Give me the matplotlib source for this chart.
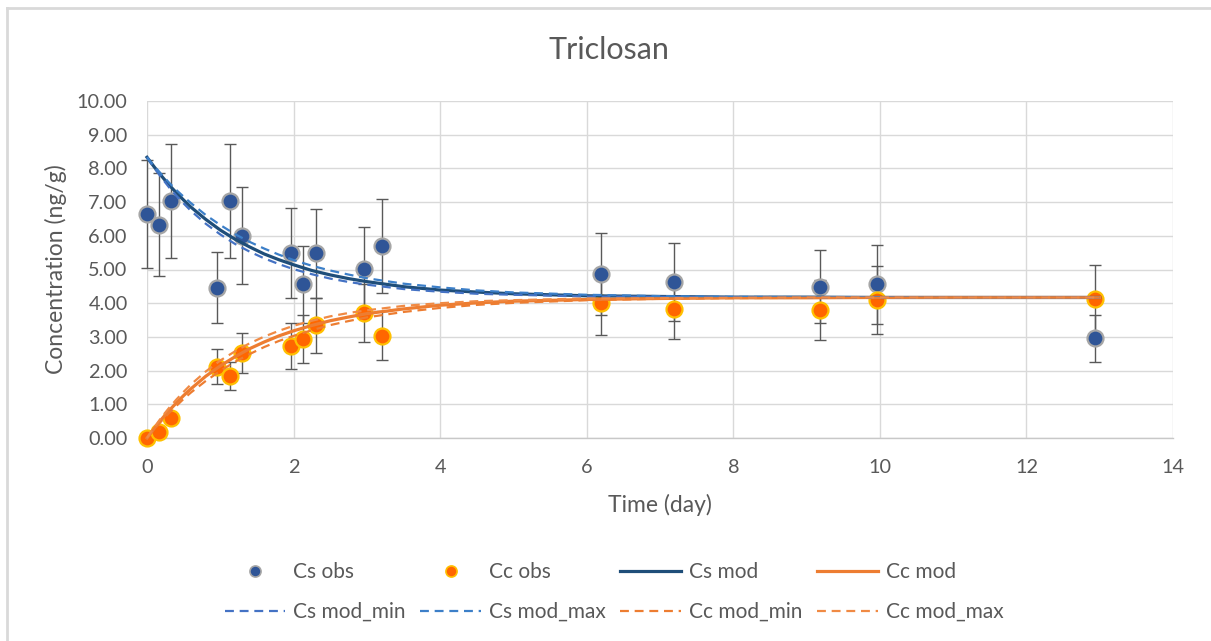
import matplotlib
matplotlib.use("Agg")
import matplotlib.pyplot as plt
from matplotlib.lines import Line2D

plt.rcParams['font.family'] = ['Lato', 'DejaVu Sans']

title = "Triclosan"
x_label = "Time (day)"
y_label = "Concentration (ng/g)"

# Observations (mean and error)
t_obs = [0, 0.17, 0.33, 0.96, 1.13, 1.29, 1.96, 2.13, 2.30, 2.96, 3.21, 6.19, 7.19, 9.18, 9.96, 12.94]
cs_obs = [6.65, 6.33, 7.03, 4.46, 7.03, 6.00, 5.49, 4.56, 5.48, 5.01, 5.70, 4.87, 4.63, 4.49, 4.56, 2.96]
cs_err = [1.60, 1.53, 1.69, 1.06, 1.69, 1.44, 1.33, 1.14, 1.32, 1.25, 1.39, 1.21, 1.16, 1.09, 1.17, 0.70]
cc_obs = [0.00, 0.19, 0.58, 2.11, 1.84, 2.53, 2.73, 2.93, 3.34, 3.72, 3.04, 4.02, 3.84, 3.80, 4.09, 4.12]
cc_err = [0.00, 0.05, 0.10, 0.52, 0.42, 0.60, 0.67, 0.71, 0.82, 0.86, 0.72, 0.96, 0.91, 0.88, 1.00, 1.00]

# Model runs
t_mod = [0, 0.1, 0.2, 0.3, 0.4, 0.5, 0.6, 0.8, 1.0, 1.2, 1.4, 1.6, 1.8, 2.0, 2.25, 2.5, 2.75, 3.0,
         3.5, 4.0, 4.5, 5, 6, 7, 8, 9, 10, 11, 12, 13]
cs_mod = [8.33, 8.04, 7.77, 7.51, 7.28, 7.06, 6.85, 6.49, 6.17, 5.90, 5.67, 5.46, 5.29, 5.14, 4.97, 4.84,
          4.73, 4.64, 4.49, 4.39, 4.33, 4.28, 4.22, 4.20, 4.18, 4.18, 4.17, 4.17, 4.17, 4.17]
cs_mod_max = [8.33, 8.06, 7.82, 7.58, 7.36, 7.16, 6.97, 6.62, 6.32, 6.05, 5.82, 5.62, 5.44, 5.28, 5.11, 4.97,
              4.85, 4.74, 4.58, 4.47, 4.38, 4.32, 4.25, 4.21, 4.19, 4.18, 4.18, 4.17, 4.17, 4.17]
cs_mod_min = [8.33, 8.01, 7.72, 7.44, 7.19, 6.96, 6.74, 6.36, 6.04, 5.76, 5.53, 5.33, 5.16, 5.01, 4.86, 4.73,
              4.63, 4.55, 4.42, 4.34, 4.28, 4.25, 4.20, 4.19, 4.18, 4.17, 4.17, 4.17, 4.17, 4.17]
cc_mod = [0.00, 0.29, 0.56, 0.81, 1.04, 1.26, 1.46, 1.83, 2.14, 2.41, 2.65, 2.85, 3.03, 3.18, 3.34, 3.48,
          3.59, 3.69, 3.83, 3.94, 4.01, 4.06, 4.11, 4.14, 4.16, 4.16, 4.17, 4.17, 4.17, 4.17]
cc_mod_max = [0.00, 0.32, 0.62, 0.89, 1.14, 1.37, 1.59, 1.97, 2.30, 2.57, 2.81, 3.01, 3.18, 3.33, 3.48, 3.61,
              3.71, 3.79, 3.92, 4.00, 4.06, 4.09, 4.14, 4.15, 4.16, 4.17, 4.17, 4.17, 4.17, 4.17]
cc_mod_min = [0.00, 0.26, 0.51, 0.74, 0.95, 1.16, 1.35, 1.69, 1.99, 2.26, 2.49, 2.70, 2.88, 3.03, 3.20, 3.35,
              3.47, 3.58, 3.74, 3.86, 3.95, 4.01, 4.09, 4.13, 4.15, 4.16, 4.16, 4.17, 4.17, 4.17]

x_ticks = [0, 2, 4, 6, 8, 10, 12, 14]
y_ticks = [0, 1, 2, 3, 4, 5, 6, 7, 8, 9, 10]

TEXT = '#595959'
GRID = '#D9D9D9'
CS_FILL, CS_EDGE = '#2F5597', '#A6A6A6'
CC_FILL, CC_EDGE = '#FF6600', '#FFC000'
CS_LINE, CC_LINE = '#1F4E79', '#ED7D31'
CS_MIN, CS_MAX = '#4472C4', '#3C7FC8'
CC_MIN, CC_MAX = '#ED7D31', '#F08A44'
DASH = (0, (4, 2.6))

fig = plt.figure(figsize=(12.11, 6.41), dpi=100)
ax = fig.add_axes([147 / 1211, 1 - 438 / 641, (1173 - 147) / 1211, (438 - 101) / 641])

# error bars
for ys, es in ((cs_obs, cs_err), (cc_obs, cc_err)):
    eb = ax.errorbar(t_obs, ys, yerr=es, fmt='none', ecolor='#595959', elinewidth=1.0,
                     capsize=4.5, capthick=1.0, zorder=2)
    for art in eb.get_children():
        art.set_clip_on(False)

# observed points
ax.plot(t_obs, cs_obs, linestyle='none', marker='o', markersize=11.5, markerfacecolor=CS_FILL,
        markeredgecolor=CS_EDGE, markeredgewidth=1.6, zorder=3, clip_on=False)
ax.plot(t_obs, cc_obs, linestyle='none', marker='o', markersize=11.5, markerfacecolor=CC_FILL,
        markeredgecolor=CC_EDGE, markeredgewidth=1.6, zorder=3, clip_on=False)

# model lines
ax.plot(t_mod, cs_mod, color=CS_LINE, linewidth=2.3, zorder=4, solid_joinstyle='round', clip_on=False)
ax.plot(t_mod, cc_mod, color=CC_LINE, linewidth=2.3, zorder=4, solid_joinstyle='round', clip_on=False)
ax.plot(t_mod, cs_mod_min, color=CS_MIN, linewidth=1.6, linestyle=DASH, zorder=4, clip_on=False)
ax.plot(t_mod, cs_mod_max, color=CS_MAX, linewidth=1.6, linestyle=DASH, zorder=4, clip_on=False)
ax.plot(t_mod, cc_mod_min, color=CC_MIN, linewidth=1.6, linestyle=DASH, zorder=4, clip_on=False)
ax.plot(t_mod, cc_mod_max, color=CC_MAX, linewidth=1.6, linestyle=DASH, zorder=4, clip_on=False)

ax.set_xlim(0, 14)
ax.set_ylim(0, 10)
ax.set_xticks(x_ticks)
ax.set_yticks(y_ticks)
ax.set_xticklabels([str(v) for v in x_ticks])
ax.set_yticklabels([f"{v:.2f}" for v in y_ticks])
ax.tick_params(axis='both', length=0, labelsize=14.3, colors=TEXT)
ax.tick_params(axis='y', pad=14)
ax.tick_params(axis='x', pad=15)
ax.grid(True, color=GRID, linewidth=1.0, zorder=0)
ax.set_axisbelow(True)
for side in ('top', 'right', 'left'):
    ax.spines[side].set_visible(False)
ax.spines['bottom'].set_color('#C8C8C8')
ax.spines['bottom'].set_linewidth(1.0)

ax.set_xlabel(x_label, fontsize=16.5, color=TEXT, labelpad=13)
ax.set_ylabel(y_label, fontsize=16.5, color=TEXT, labelpad=7)

fig.text(609 / 1211, 1 - 50 / 641, title, fontsize=22, color=TEXT, ha='center', va='center')

# legend, filled column by column so rows read: obs/mod on top, min/max below
handles = [
    Line2D([], [], linestyle='none', marker='o', markersize=8, markerfacecolor=CS_FILL,
           markeredgecolor=CS_EDGE, markeredgewidth=1.2),
    Line2D([], [], color=CS_MIN, linewidth=1.6, linestyle=DASH),
    Line2D([], [], linestyle='none', marker='o', markersize=8, markerfacecolor=CC_FILL,
           markeredgecolor=CC_EDGE, markeredgewidth=1.2),
    Line2D([], [], color=CS_MAX, linewidth=1.6, linestyle=DASH),
    Line2D([], [], color=CS_LINE, linewidth=2.3),
    Line2D([], [], color=CC_MIN, linewidth=1.6, linestyle=DASH),
    Line2D([], [], color=CC_LINE, linewidth=2.3),
    Line2D([], [], color=CC_MAX, linewidth=1.6, linestyle=DASH),
]
labels = ['Cs obs', 'Cs mod_min', 'Cc obs', 'Cs mod_max', 'Cs mod', 'Cc mod_min', 'Cc mod', 'Cc mod_max']
fig.legend(handles, labels, loc='center', bbox_to_anchor=(614 / 1211, 1 - 592 / 641), ncol=4,
           frameon=False, fontsize=15, labelcolor=TEXT, handlelength=2.9, handletextpad=0.4,
           columnspacing=0.7, labelspacing=0.95, borderpad=0)

# chart area border
fig.add_artist(Line2D([6.5 / 1211, 6.5 / 1211], [0, 1 - 8 / 641], transform=fig.transFigure,
                      color='#D9D9D9', linewidth=2.0))
fig.add_artist(Line2D([6.5 / 1211, 1], [1 - 8 / 641, 1 - 8 / 641], transform=fig.transFigure,
                      color='#D9D9D9', linewidth=2.0))

fig.savefig('out.png', dpi=100, facecolor='white')
